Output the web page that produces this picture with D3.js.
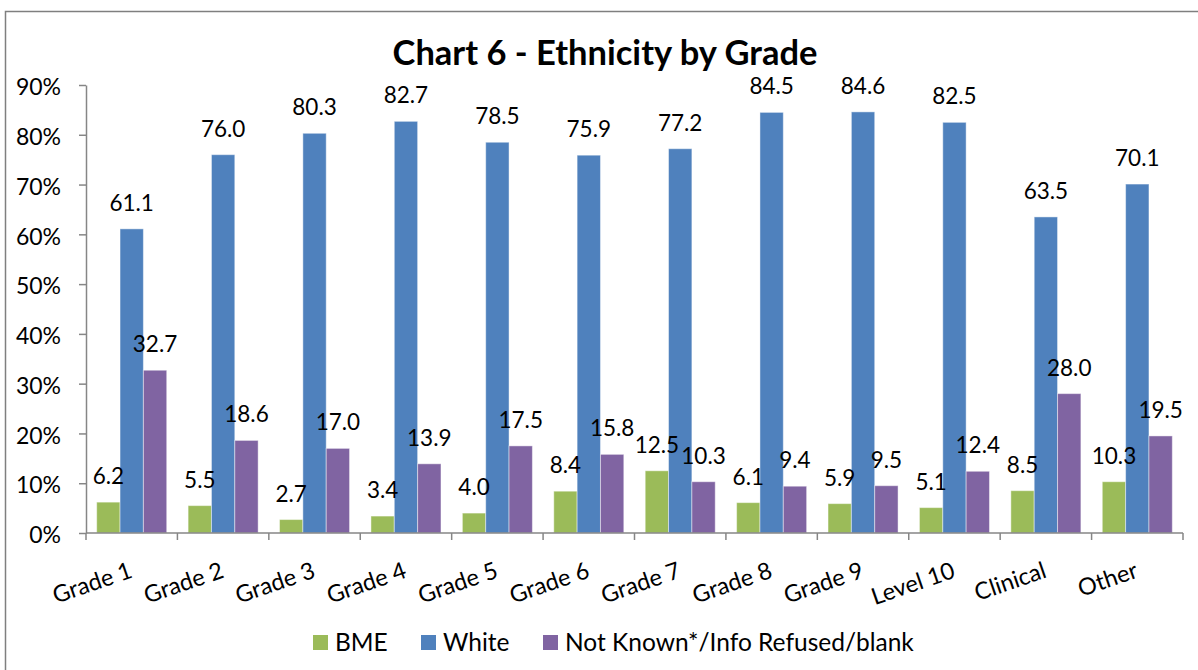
<!DOCTYPE html>
<html><head><meta charset="utf-8">
<script src="https://cdn.jsdelivr.net/npm/d3@7"></script>
<style>body{margin:0;background:#fff}svg{display:block}</style>
</head><body>
<script>
const categories = ["Grade 1","Grade 2","Grade 3","Grade 4","Grade 5","Grade 6","Grade 7","Grade 8","Grade 9","Level 10","Clinical","Other"];
const seriesNames = ["BME","White","Not Known*/Info Refused/blank"];
const bme   = [6.2,5.5,2.7,3.4,4.0,8.4,12.5,6.1,5.9,5.1,8.5,10.3];
const white = [61.1,76.0,80.3,82.7,78.5,75.9,77.2,84.5,84.6,82.5,63.5,70.1];
const notKnown = [32.7,18.6,17.0,13.9,17.5,15.8,10.3,9.4,9.5,12.4,28.0,19.5];
const yTicks = [0,10,20,30,40,50,60,70,80,90];
const colors = ["#9BBB59","#4F81BD","#8064A2"];
const series = [bme, white, notKnown];

const W = 1198, H = 670;
const font = "Lato, 'Open Sans', sans-serif";
const svg = d3.select("body").append("svg").attr("width", W).attr("height", H);

svg.append("rect").attr("x",5.5).attr("y",11.5).attr("width",1200).attr("height",700)
  .attr("fill","#fff").attr("stroke","#7f7f7f").attr("stroke-width",1.5);

const pLeft = 86, pRight = 1183, pTop = 85, pBottom = 533;
const x0 = d3.scaleBand().domain(categories).range([pLeft, pRight]).paddingInner(0.234).paddingOuter(0.117);
const x1 = d3.scaleBand().domain(seriesNames).range([0, x0.bandwidth()]);
const y = d3.scaleLinear().domain([0, 90]).range([pBottom, pTop]);

// title
svg.append("text").attr("x", 605).attr("y", 65).attr("text-anchor","middle")
  .attr("font-family", font).attr("font-weight","bold").attr("font-size", 34.5)
  .text("Chart 6 - Ethnicity by Grade");

// y axis
const yAxis = d3.axisLeft(y).tickValues(yTicks).tickFormat(d => d + "%").tickSize(7).tickSizeOuter(0);
const gy = svg.append("g").attr("transform", `translate(${pLeft},0)`).call(yAxis);
gy.select(".domain").attr("stroke","#868686").attr("stroke-width",1.5);
gy.selectAll(".tick line").attr("stroke","#868686").attr("stroke-width",1.5);
gy.selectAll(".tick text").attr("font-family", font).attr("font-size", 23).attr("fill","#000")
  .attr("x", -25).attr("dy", "0.42em");

// bars
const groups = svg.append("g").selectAll("g").data(categories).join("g")
  .attr("transform", d => `translate(${x0(d)},0)`);
series.forEach((vals, si) => {
  groups.append("rect")
    .attr("x", x1(seriesNames[si]))
    .attr("y", (d, i) => y(vals[i]))
    .attr("width", x1.bandwidth())
    .attr("height", (d, i) => pBottom - y(vals[i]))
    .attr("fill", colors[si])
    .attr("stroke", "rgba(255,255,255,0.45)").attr("stroke-width", 1);
});
series.forEach((vals, si) => {
  groups.append("text")
    .attr("x", x1(seriesNames[si]) + x1.bandwidth()/2)
    .attr("y", (d, i) => y(vals[i]) - 18)
    .attr("text-anchor","middle")
    .attr("font-family", font).attr("font-size", 22.5).attr("fill","#000")
    .text((d, i) => vals[i].toFixed(1));
});

// x axis
const xb = d3.scaleLinear().domain([0, categories.length]).range([pLeft, pRight]);
const gx = svg.append("g");
gx.append("line").attr("x1", pLeft).attr("x2", pRight).attr("y1", pBottom).attr("y2", pBottom)
  .attr("stroke","#868686").attr("stroke-width",1.5);
gx.selectAll("line.tk").data(d3.range(categories.length + 1)).join("line").attr("class","tk")
  .attr("x1", d => xb(d)).attr("x2", d => xb(d)).attr("y1", pBottom).attr("y2", pBottom + 7)
  .attr("stroke","#868686").attr("stroke-width",1.5);
gx.selectAll("text").data(categories).join("text")
  .attr("transform", d => `translate(${x0(d) + x0.bandwidth()/2 + 2},${pBottom + 44}) rotate(-19)`)
  .attr("text-anchor","end")
  .attr("font-family", font).attr("font-size", 23.5).attr("fill","#000")
  .text(d => d);

// legend
const legendX = [313, 421, 543];
const lg = svg.append("g").selectAll("g").data(seriesNames).join("g")
  .attr("transform", (d, i) => `translate(${legendX[i]},635)`);
lg.append("rect").attr("width", 15).attr("height", 15).attr("fill", (d, i) => colors[i]);
lg.append("text").attr("x", 22).attr("y", 15.5).attr("font-family", font).attr("font-size", 24.5)
  .attr("fill","#000").text(d => d);
</script>
</body></html>
